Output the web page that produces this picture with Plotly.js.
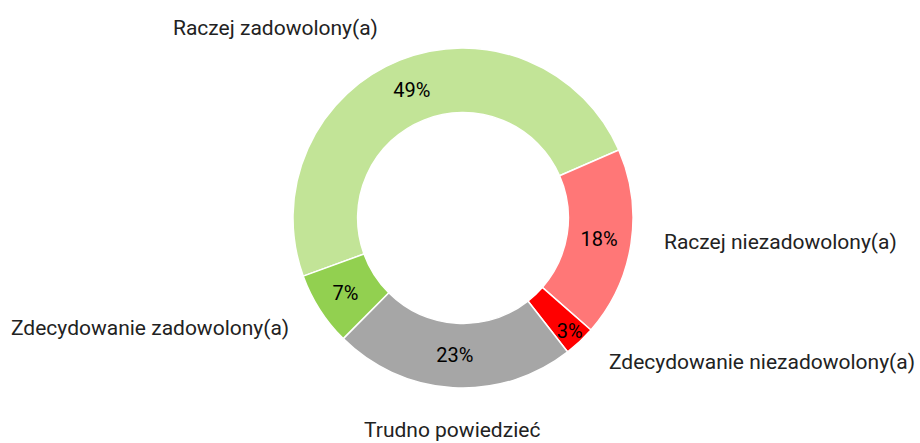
<!DOCTYPE html>
<html>
<head>
<meta charset="utf-8">
<script src="https://cdn.plot.ly/plotly-3.0.1.min.js"></script>
<style>html,body{margin:0;padding:0;background:#fff;}#chart{width:920px;height:443px;}</style>
</head>
<body>
<div id="chart"></div>
<script>
const categories = ["Raczej zadowolony(a)", "Raczej niezadowolony(a)", "Zdecydowanie niezadowolony(a)", "Trudno powiedzieć", "Zdecydowanie zadowolony(a)"];
const values = [49, 18, 3, 23, 7];
const colors = ["#c2e497", "#ff7777", "#ff0000", "#a6a6a6", "#92d050"];
// label anchor positions in pixels (layout only)
const labelPos = [[275, 28], [780, 242], [762, 362], [452, 430], [150, 328]];

const W = 920, H = 443;
const cx = 463, cy = 218, R = 170;

const trace = {
  type: "pie",
  labels: categories,
  values: values,
  sort: false,
  direction: "clockwise",
  rotation: 250,
  hole: 0.62,
  marker: {colors: colors, line: {color: "#ffffff", width: 1.5}},
  textinfo: "percent",
  texttemplate: "%{percent:.0%}",
  textposition: "inside",
  insidetextorientation: "horizontal",
  textfont: {family: "Roboto, sans-serif", size: 20, color: "#000000"},
  domain: {x: [(cx - R) / W, (cx + R) / W], y: [1 - (cy + R) / H, 1 - (cy - R) / H]},
  showlegend: false,
  hoverinfo: "label+percent"
};

const annotations = categories.map((c, i) => ({
  text: c,
  xref: "paper", yref: "paper",
  x: labelPos[i][0] / W, y: 1 - labelPos[i][1] / H,
  xanchor: "center", yanchor: "middle",
  showarrow: false,
  font: {family: "Roboto, sans-serif", size: 21, color: "#222222"}
}));

const layout = {
  width: W, height: H,
  margin: {l: 0, r: 0, t: 0, b: 0},
  paper_bgcolor: "#ffffff",
  annotations: annotations,
  uniformtext: {minsize: 20, mode: "show"}
};

Plotly.newPlot("chart", [trace], layout, {displayModeBar: false, staticPlot: true});
</script>
</body>
</html>
